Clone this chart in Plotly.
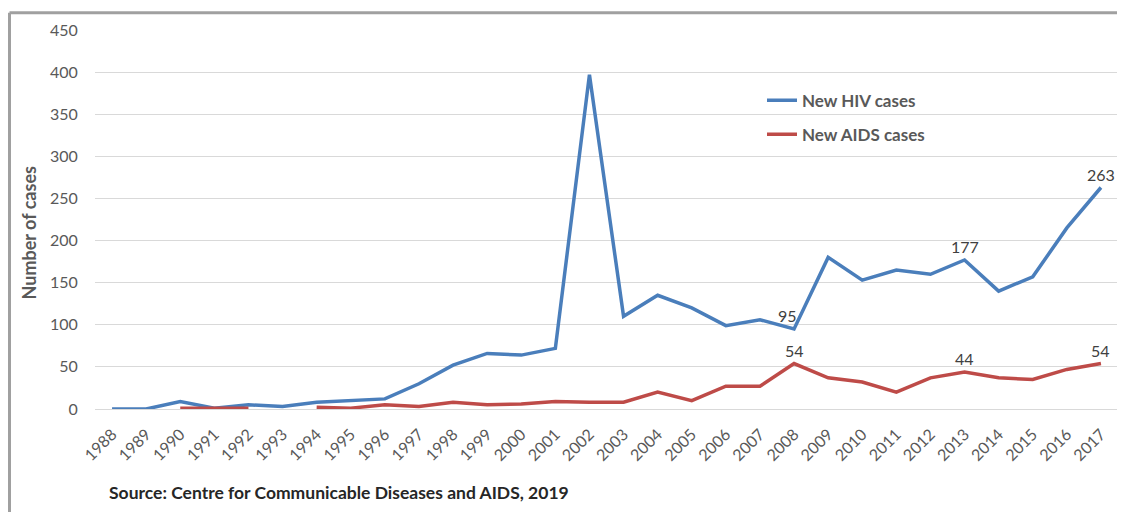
import plotly.graph_objects as go

years = list(range(1988, 2018))
hiv = [0, 0, 9, 1, 5, 3, 8, 10, 12, 30, 52, 66, 64, 72, 397, 110, 135, 120, 99, 106,
       95, 180, 153, 165, 160, 177, 140, 157, 215, 263]
aids = [None, None, 1, 1, 1, None, 2, 1, 5, 3, 8, 5, 6, 9, 8, 8, 20, 10, 27, 27,
        54, 37, 32, 20, 37, 44, 37, 35, 47, 54]
hiv_labels_years = [2008, 2013, 2017]
aids_labels_years = [2008, 2013, 2017]

FONT = "Lato"
TICK = "#595959"

fig = go.Figure()
fig.add_trace(go.Scatter(
    x=years, y=hiv, name="New HIV cases", mode="lines",
    line=dict(color="#4A7EBB", width=3.5), legendgroup="a",
))
fig.add_trace(go.Scatter(
    x=years, y=aids, name="New AIDS cases", mode="lines",
    line=dict(color="#BE4B48", width=3.5), legendgroup="b",
    connectgaps=False,
))

# data labels, positioned through the axis scales
labels = []
for series, ys in ((hiv, hiv_labels_years), (aids, aids_labels_years)):
    for yr in ys:
        v = series[years.index(yr)]
        labels.append(dict(
            x=yr, y=v, xref="x", yref="y", text=str(v), showarrow=False,
            xanchor="center", yanchor="bottom", yshift=2,
            xshift=-7 if (series is hiv and yr == 2008) else 0,
            font=dict(family=FONT, size=16, color="#404040"),
        ))

OFF = 8  # page body margin offset
W, H = 1125, 512
L = 95 - OFF
T = 27 - OFF
R = W - (1118 - OFF)
B = H - (409 - OFF)
pw = W - L - R
ph = H - T - B

def px(xp):
    return (xp - OFF - L) / pw

def py(yp):
    return (H - B - (yp - OFF)) / ph

fig.update_layout(
    width=W, height=H,
    margin=dict(l=L, r=R, t=T, b=B),
    paper_bgcolor="white", plot_bgcolor="white",
    font=dict(family=FONT, color=TICK),
    showlegend=True,
    legend=dict(
        x=px(762), y=py(80), xanchor="left", yanchor="top",
        font=dict(family=FONT, size=17, color=TICK, weight="bold"),
        bgcolor="rgba(0,0,0,0)", tracegroupgap=9,
    ),
    xaxis=dict(
        range=[1987.5, 2017.5], tickmode="array", tickvals=years,
        ticktext=[str(y) for y in years], tickangle=-45,
        tickfont=dict(family=FONT, size=16, color=TICK),
        showgrid=False, showline=False, zeroline=False, ticks="",
        ticklabelstandoff=12,
    ),
    yaxis=dict(
        range=[0, 450], tickmode="array", tickvals=list(range(0, 451, 50)),
        tickfont=dict(family=FONT, size=16, color=TICK),
        showgrid=True, gridcolor="#D9D9D9", gridwidth=1,
        zeroline=True, zerolinecolor="#D9D9D9", zerolinewidth=1,
        showline=False, ticks="outside", ticklen=13, tickcolor="rgba(0,0,0,0)",
    ),
    annotations=labels + [
        dict(text="<b>Number of cases</b>", xref="paper", yref="paper",
             x=px(29), y=py(232), xanchor="center", yanchor="middle",
             textangle=-90, showarrow=False,
             font=dict(family=FONT, size=18, color=TICK)),
        dict(text="<b>Source: Centre for Communicable Diseases and AIDS, 2019</b>",
             xref="paper", yref="paper", x=px(107), y=py(493),
             xanchor="left", yanchor="middle", showarrow=False,
             font=dict(family=FONT, size=17.5, color="#262626")),
    ],
    shapes=[
        dict(type="line", xref="paper", yref="paper", x0=px(OFF + 1.5), x1=px(1140),
             y0=py(OFF + 1.5), y1=py(OFF + 1.5), line=dict(color="#A0A0A0", width=3)),
        dict(type="line", xref="paper", yref="paper", x0=px(OFF + 1.5), x1=px(OFF + 1.5),
             y0=py(OFF + 1.5), y1=py(530), line=dict(color="#A0A0A0", width=3)),
    ],
)

fig.write_html("out.html")
